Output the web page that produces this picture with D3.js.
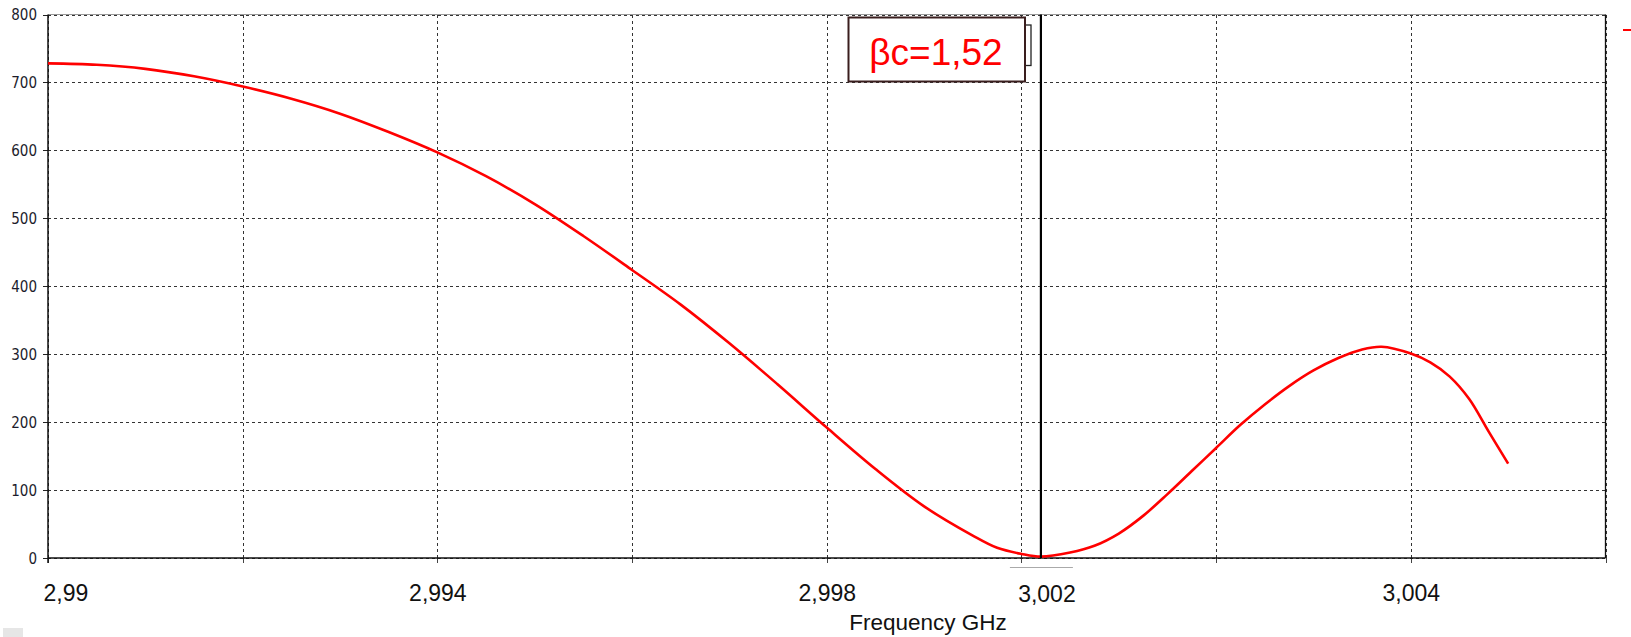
<!DOCTYPE html>
<html>
<head>
<meta charset="utf-8">
<script src="https://cdn.jsdelivr.net/npm/d3@7"></script>
<style>
  html, body { margin: 0; padding: 0; background: #fff; }
  svg { display: block; }
</style>
</head>
<body>
<svg id="chart" width="1631" height="637"></svg>
<script>
// Swept response around 3 GHz (frequency in GHz, magnitude)
const freqGHz = [
  2.9900, 2.9905, 2.9910, 2.9915, 2.9920, 2.9925, 2.9930, 2.9935,
  2.9940, 2.9945, 2.9950, 2.9955, 2.9960, 2.9965, 2.9970, 2.9975,
  2.9980, 2.9985, 2.9990, 2.9995, 2.99975, 3.0000, 3.0002, 3.0005,
  3.00075, 3.0010, 3.00125, 3.0015, 3.00175, 3.0020, 3.00225, 3.0025,
  3.00275, 3.0030, 3.00325, 3.0035, 3.0037, 3.0040, 3.0042, 3.0044,
  3.0046, 3.0048, 3.0050
];
const response = [
  728, 726, 720, 709, 694, 676, 654, 627,
  597, 562, 521, 474, 424, 373, 316, 255,
  192, 131, 76, 33, 15, 6, 2, 8,
  18, 36, 62, 94, 128, 162, 196, 226,
  253, 276, 294, 307, 311, 301, 288, 267,
  234, 186, 139
];

const xDomain = [2.99, 3.006];
const yDomain = [0, 800];
const xGridTicks = [2.99, 2.992, 2.994, 2.996, 2.998, 3.0, 3.002, 3.004, 3.006];
const xLabelTicks = [2.99, 2.994, 2.998, 3.004];
const yTicks = [0, 100, 200, 300, 400, 500, 600, 700, 800];

// Marker readout
const markerFreq = 3.0002;
const markerLabel = "3,002";
const annotationText = "\u03B2c=1,52";
const xAxisTitle = "Frequency GHz";

const plotLeft = 48, plotRight = 1605.5, plotTop = 14.5, plotBottom = 558;

const svg = d3.select("#chart");
const x = d3.scaleLinear().domain(xDomain).range([plotLeft, plotRight]);
const y = d3.scaleLinear().domain(yDomain).range([plotBottom, plotTop]);

const commaLocale = d3.formatLocale({decimal: ",", thousands: " ", grouping: [3], currency: ["", ""]});
const fmtX = commaLocale.format("~g");

// Horizontal grid
svg.append("g")
  .attr("transform", `translate(${plotLeft},0)`)
  .call(d3.axisLeft(y).tickValues(yTicks).tickSize(-(plotRight - plotLeft)).tickFormat(""))
  .call(g => g.select(".domain").remove())
  .call(g => g.selectAll("line")
    .attr("stroke", "#333").attr("stroke-width", 1).attr("stroke-dasharray", "3,3")
    .attr("shape-rendering", "crispEdges"));

// Vertical grid
svg.append("g")
  .attr("transform", `translate(0,${plotBottom})`)
  .call(d3.axisBottom(x).tickValues(xGridTicks).tickSize(-(plotBottom - plotTop)).tickFormat(""))
  .call(g => g.select(".domain").remove())
  .call(g => g.selectAll("line")
    .attr("stroke", "#333").attr("stroke-width", 1).attr("stroke-dasharray", "3,3")
    .attr("shape-rendering", "crispEdges"));

// Y axis ticks and labels
svg.append("g")
  .attr("transform", `translate(${plotLeft},0)`)
  .call(d3.axisLeft(y).tickValues(yTicks).tickSize(5).tickPadding(6).tickFormat(d3.format("d")))
  .call(g => g.select(".domain").remove())
  .call(g => g.selectAll("line").attr("stroke", "#222").attr("shape-rendering", "crispEdges"))
  .call(g => g.selectAll("text")
    .attr("font-family", "'DejaVu Sans Condensed', 'DejaVu Sans', sans-serif")
    .attr("font-size", 15).attr("fill", "#1c1c2c").attr("dy", "0.36em"));

// X axis short ticks at every grid line
svg.append("g")
  .attr("transform", `translate(0,${plotBottom})`)
  .call(d3.axisBottom(x).tickValues(xGridTicks).tickSize(5).tickFormat(""))
  .call(g => g.select(".domain").remove())
  .call(g => g.selectAll("line").attr("stroke", "#444").attr("shape-rendering", "crispEdges"));

// X axis labels
const xLab = svg.append("g")
  .attr("transform", `translate(0,${plotBottom})`)
  .call(d3.axisBottom(x).tickValues(xLabelTicks).tickSize(0).tickPadding(27).tickFormat(fmtX))
  .call(g => g.select(".domain").remove())
  .call(g => g.selectAll("text")
    .attr("font-family", "'Liberation Sans', Arial, sans-serif")
    .attr("font-size", 23).attr("fill", "#111").attr("dy", "0.71em"));
xLab.selectAll(".tick").filter(d => d === xDomain[0])
  .select("text").attr("text-anchor", "start").attr("dx", -5);

// Marker frequency readout on the x axis
svg.append("line")
  .attr("x1", x(markerFreq) - 31).attr("x2", x(markerFreq) + 32)
  .attr("y1", 567.5).attr("y2", 567.5)
  .attr("stroke", "#aaa").attr("stroke-width", 1);
svg.append("text")
  .attr("x", x(markerFreq) + 6).attr("y", 602)
  .attr("text-anchor", "middle")
  .attr("font-family", "'Liberation Sans', Arial, sans-serif")
  .attr("font-size", 23).attr("fill", "#111")
  .text(markerLabel);

// Axis title
svg.append("text")
  .attr("x", 928).attr("y", 630)
  .attr("text-anchor", "middle")
  .attr("font-family", "'Liberation Sans', Arial, sans-serif")
  .attr("font-size", 22.5).attr("fill", "#111")
  .text(xAxisTitle);

// Plot frame
svg.append("line").attr("x1", plotLeft).attr("x2", plotRight).attr("y1", plotTop).attr("y2", plotTop)
  .attr("stroke", "#999").attr("stroke-width", 1.2);
svg.append("line").attr("x1", plotRight).attr("x2", plotRight).attr("y1", plotTop).attr("y2", plotBottom)
  .attr("stroke", "#111").attr("stroke-width", 1.3);
svg.append("line").attr("x1", plotLeft).attr("x2", plotLeft).attr("y1", plotTop).attr("y2", plotBottom + 5)
  .attr("stroke", "#111").attr("stroke-width", 1.5);
svg.append("line").attr("x1", plotLeft).attr("x2", plotRight).attr("y1", plotBottom).attr("y2", plotBottom)
  .attr("stroke", "#111").attr("stroke-width", 1.5);

// Response curve
const line = d3.line()
  .x((d, i) => x(freqGHz[i]))
  .y(d => y(d))
  .curve(d3.curveCatmullRom.alpha(0.5));
svg.append("path")
  .datum(response)
  .attr("d", line)
  .attr("fill", "none")
  .attr("stroke", "#ff0000")
  .attr("stroke-width", 2.6)
  .attr("stroke-linejoin", "round");

// Marker line
svg.append("line")
  .attr("x1", x(markerFreq)).attr("x2", x(markerFreq))
  .attr("y1", plotTop).attr("y2", plotBottom)
  .attr("stroke", "#000").attr("stroke-width", 2.2);

// Annotation box
svg.append("rect")
  .attr("x", 1025).attr("y", 25).attr("width", 6).attr("height", 40.5)
  .attr("fill", "#fff").attr("stroke", "#222").attr("stroke-width", 1.3);
svg.append("rect")
  .attr("x", 848.5).attr("y", 17.5).attr("width", 176.5).attr("height", 64)
  .attr("fill", "#fff").attr("stroke", "#3a1e1e").attr("stroke-width", 2);
svg.append("text")
  .attr("x", 936).attr("y", 65)
  .attr("text-anchor", "middle")
  .attr("font-family", "'Liberation Sans', Arial, sans-serif")
  .attr("font-size", 37).attr("fill", "#ff0000")
  .text(annotationText);

// Legend stub at the right edge
svg.append("line")
  .attr("x1", 1623).attr("x2", 1631).attr("y1", 30).attr("y2", 30)
  .attr("stroke", "#ff0000").attr("stroke-width", 2);

// Small status swatch in the corner
svg.append("rect")
  .attr("x", 3).attr("y", 628).attr("width", 20).attr("height", 9)
  .attr("fill", "#e6e6e6");
</script>
</body>
</html>
